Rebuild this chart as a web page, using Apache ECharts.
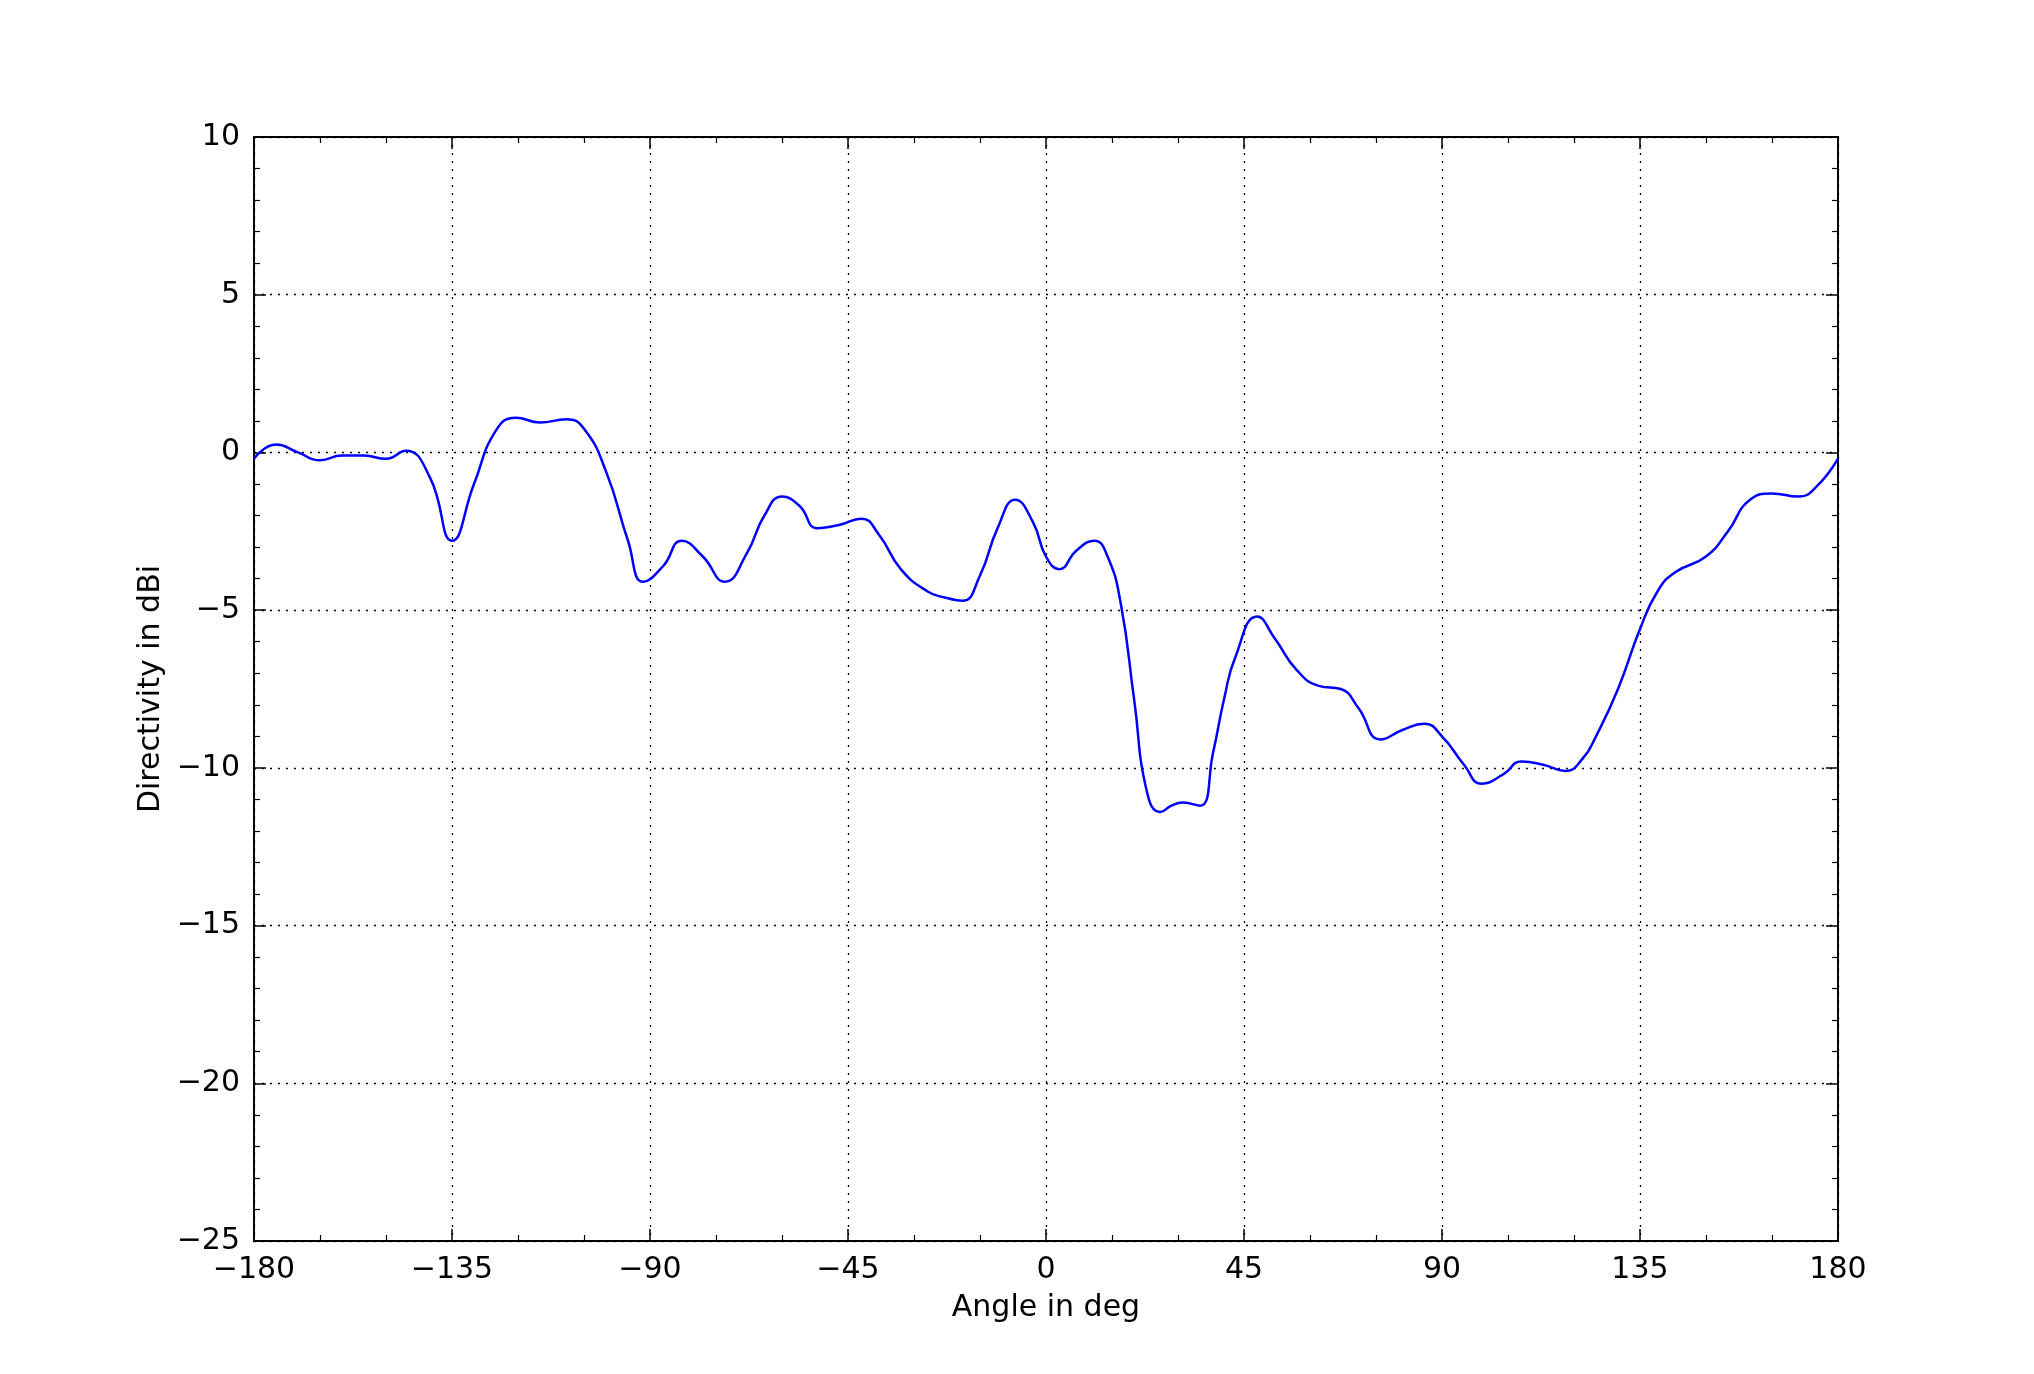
<!DOCTYPE html>
<html>
<head>
<meta charset="utf-8">
<script src="https://cdn.jsdelivr.net/npm/echarts@6/dist/echarts.min.js"></script>
<style>html,body{margin:0;padding:0;background:#fff}#chart{width:2034px;height:1374px}</style>
</head>
<body>
<div id="chart"></div>
<script>
var angles = [-180, -175, -170, -165, -160, -155, -150, -145.5, -140, -135, -130, -125, -120.5, -115, -109, -105, -100, -95, -91.5, -87, -82.8, -78, -73, -68, -64, -60, -56, -52, -47, -42, -38, -33, -27, -23, -19, -15, -11, -7, -3, 0, 3, 7, 11, 14, 17, 20, 23, 26, 28.5, 31, 35, 38, 40.5, 43, 48, 52, 57, 62, 67, 71, 76, 81, 86, 90, 95, 99, 104, 108, 113, 118, 122, 125, 130, 135, 139, 143, 150, 155, 160, 165, 171, 175, 180];
var directivity = [-0.2, 0.25, 0.0, -0.25, -0.1, -0.1, -0.2, 0.05, -0.8, -2.8, -1.0, 0.7, 1.1, 0.95, 1.05, 0.75, -0.6, -2.8, -4.1, -3.6, -2.8, -3.3, -4.1, -3.2, -2.0, -1.4, -1.7, -2.4, -2.3, -2.1, -2.6, -3.7, -4.4, -4.6, -4.7, -3.9, -2.4, -1.5, -2.2, -3.3, -3.7, -3.1, -2.8, -3.3, -4.8, -7.8, -10.8, -11.4, -11.2, -11.1, -11.2, -9.5, -7.8, -6.5, -5.2, -5.9, -6.9, -7.4, -7.5, -8.1, -9.1, -8.8, -8.6, -9.0, -9.9, -10.5, -10.2, -9.8, -9.9, -10.1, -9.7, -9.0, -7.5, -5.6, -4.4, -3.8, -3.3, -2.5, -1.5, -1.3, -1.4, -1.1, -0.2];
var xTicks = [-180, 180, 45];
var yTicks = [-25, 10, 5];

var chart = echarts.init(document.getElementById('chart'));
var font = 'DejaVu Sans';
function axisCommon(showLabel) {
	return {
		axisLine: {show: true, onZero: false, lineStyle: {color: '#000', width: 2}},
		axisTick: {show: true, inside: true, length: 12, lineStyle: {color: '#000', width: 1.5}},
		minorTick: {show: true, length: 6, lineStyle: {color: '#000', width: 1.2}},
		axisLabel: {show: showLabel, color: '#000', fontSize: 30, fontFamily: font, margin: 14,
			formatter: function (v) { return v < 0 ? '\u2212' + Math.abs(v) : String(v); }}
	};
}
var xMain = Object.assign({type: 'value', position: 'bottom', min: xTicks[0], max: xTicks[1], interval: xTicks[2],
	name: 'Angle in deg', nameLocation: 'middle', nameGap: 52, nameTextStyle: {color: '#000', fontSize: 30, fontFamily: font},
	splitLine: {show: true, lineStyle: {color: '#000', type: [2, 6], width: 1.3}}}, axisCommon(true));
xMain.minorTick.splitNumber = 3;
var xTop = Object.assign({type: 'value', position: 'top', min: xTicks[0], max: xTicks[1], interval: xTicks[2], splitLine: {show: false}}, axisCommon(false));
xTop.minorTick.splitNumber = 3;
var yMain = Object.assign({type: 'value', position: 'left', min: yTicks[0], max: yTicks[1], interval: yTicks[2],
	name: 'Directivity in dBi', nameLocation: 'middle', nameGap: 82, nameTextStyle: {color: '#000', fontSize: 30, fontFamily: font},
	splitLine: {show: true, lineStyle: {color: '#000', type: [2, 6], width: 1.3}}}, axisCommon(true));
yMain.minorTick.splitNumber = 5;
var yRight = Object.assign({type: 'value', position: 'right', min: yTicks[0], max: yTicks[1], interval: yTicks[2], splitLine: {show: false}}, axisCommon(false));
yRight.minorTick.splitNumber = 5;

chart.setOption({
	animation: false,
	backgroundColor: '#fff',
	grid: {left: 254, right: 196, top: 137, bottom: 133},
	xAxis: [xMain, xTop],
	yAxis: [yMain, yRight],
	series: [{
		type: 'line',
		smooth: 0.5,
		showSymbol: false,
		lineStyle: {color: '#0000ff', width: 2.5},
		data: angles.map(function (a, i) { return [a, directivity[i]]; })
	}]
});
</script>
</body>
</html>
